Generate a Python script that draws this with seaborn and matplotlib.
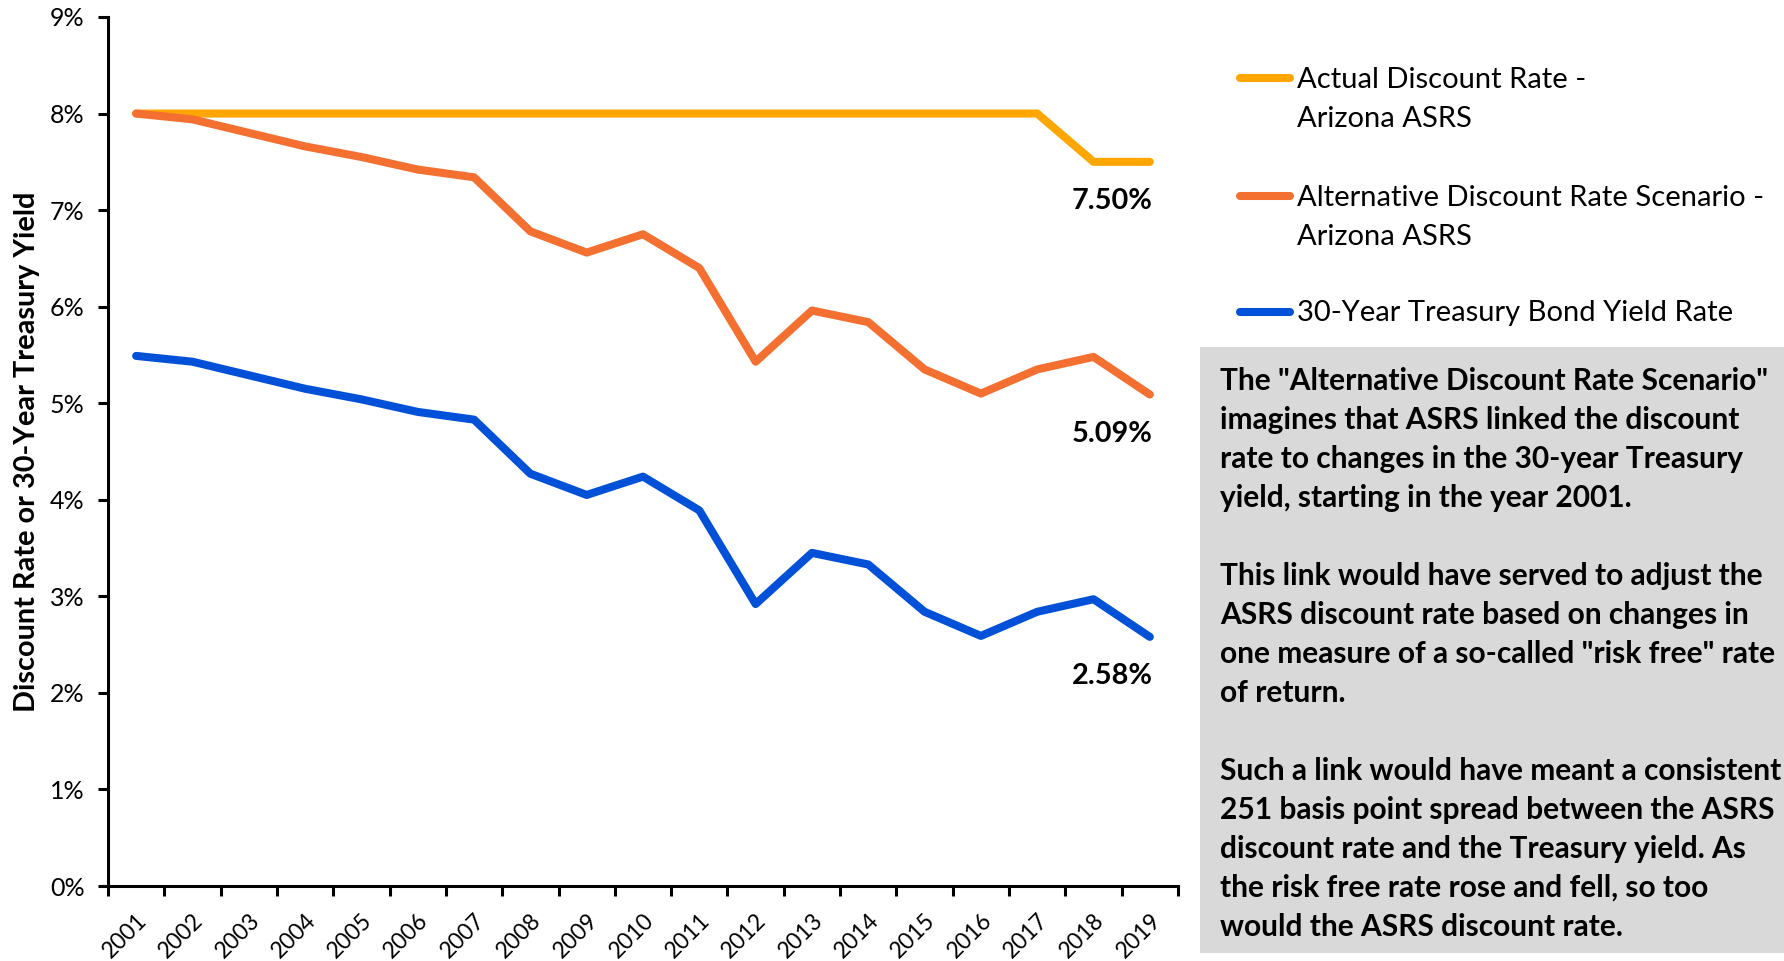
import numpy as np
import pandas as pd
import matplotlib
matplotlib.use("Agg")
import matplotlib.pyplot as plt
import seaborn as sns
from matplotlib.lines import Line2D
from matplotlib.patches import Rectangle
import matplotlib.transforms as mtransforms

# ---------------- data ----------------
years = [2001, 2002, 2003, 2004, 2005, 2006, 2007, 2008, 2009, 2010,
         2011, 2012, 2013, 2014, 2015, 2016, 2017, 2018, 2019]
actual_rate = [8.00, 8.00, 8.00, 8.00, 8.00, 8.00, 8.00, 8.00, 8.00, 8.00,
               8.00, 8.00, 8.00, 8.00, 8.00, 8.00, 8.00, 7.50, 7.50]
alternative_rate = [8.00, 7.94, 7.80, 7.66, 7.55, 7.42, 7.34, 6.78, 6.56, 6.75,
                    6.40, 5.43, 5.96, 5.84, 5.35, 5.10, 5.35, 5.48, 5.09]
treasury_yield = [5.49, 5.43, 5.29, 5.15, 5.04, 4.91, 4.83, 4.27, 4.05, 4.24,
                  3.89, 2.92, 3.45, 3.33, 2.84, 2.59, 2.84, 2.97, 2.58]
series_names = ["Actual Discount Rate -\nArizona ASRS",
                "Alternative Discount Rate Scenario -\nArizona ASRS",
                "30-Year Treasury Bond Yield Rate"]
series_colors = ["#FFA600", "#F47031", "#0050D8"]
end_labels = ["7.50%", "5.09%", "2.58%"]
y_ticks = [0, 1, 2, 3, 4, 5, 6, 7, 8, 9]
y_label = "Discount Rate or 30-Year Treasury Yield"
note_text = ('The "Alternative Discount Rate Scenario"\n'
             'imagines that ASRS linked the discount\n'
             'rate to changes in the 30-year Treasury\n'
             'yield, starting in the year 2001.\n'
             '\n'
             'This link would have served to adjust the\n'
             'ASRS discount rate based on changes in\n'
             'one measure of a so-called "risk free" rate\n'
             'of return.\n'
             '\n'
             'Such a link would have meant a consistent\n'
             '251 basis point spread between the ASRS\n'
             'discount rate and the Treasury yield. As\n'
             'the risk free rate rose and fell, so too\n'
             'would the ASRS discount rate.')

series_values = [actual_rate, alternative_rate, treasury_yield]

df = pd.DataFrame({
    "Year": years * 3,
    "Rate": actual_rate + alternative_rate + treasury_yield,
    "Series": [series_names[0]] * len(years) + [series_names[1]] * len(years)
              + [series_names[2]] * len(years),
})

# ---------------- style ----------------
sns.set_theme(style="white")
plt.rcParams['font.family'] = ['Lato', 'DejaVu Sans']

W, H = 1784, 961
fig = plt.figure(figsize=(W / 100, H / 100), dpi=100)
fig.patch.set_facecolor("white")

ax_l, ax_r, ax_t, ax_b = 108, 1178, 17, 886
ax = fig.add_axes([ax_l / W, 1 - ax_b / H, (ax_r - ax_l) / W, (ax_b - ax_t) / H])

sns.lineplot(data=df, x="Year", y="Rate", hue="Series",
             palette=dict(zip(series_names, series_colors)),
             hue_order=series_names, linewidth=5.8, legend=False,
             sort=False, ax=ax)
for ln in ax.lines:
    ln.set_solid_capstyle("round")
    ln.set_solid_joinstyle("round")

ax.set_xlim(years[0] - 0.5, years[-1] + 0.5)
ax.set_ylim(y_ticks[0], y_ticks[-1])
ax.set_yticks(y_ticks)
ax.set_yticklabels([f"{v}%" for v in y_ticks], fontsize=18, color="black")
ax.set_xticks(years)
ax.set_xticklabels([str(y) for y in years], rotation=45, ha="right",
                   va="top", rotation_mode="anchor", fontsize=16.5,
                   color="black")
shift = mtransforms.ScaledTranslation(26 / 100, 0, fig.dpi_scale_trans)
for lbl in ax.get_xticklabels():
    lbl.set_transform(lbl.get_transform() + shift)
ax.set_xticks(np.arange(years[0] - 0.5, years[-1] + 1.0, 1.0), minor=True)
ax.tick_params(axis="x", which="major", length=0, pad=17)
ax.tick_params(axis="x", which="minor", length=7, width=2.2, color="black",
               direction="out", bottom=True)
ax.tick_params(axis="y", which="major", length=7, width=2.2, color="black",
               direction="out", left=True, pad=10)
for s in ["top", "right"]:
    ax.spines[s].set_visible(False)
for s in ["left", "bottom"]:
    ax.spines[s].set_color("black")
    ax.spines[s].set_linewidth(2.2)
ax.set_xlabel("")
ax.set_ylabel(y_label, fontsize=20.8, fontweight="bold", color="black")
ax.yaxis.set_label_coords((40 - ax_l) / (ax_r - ax_l), 0.5)
ax.grid(False)

# end-of-series value labels
for vals, lab in zip(series_values, end_labels):
    ax.annotate(lab, xy=(years[-1], vals[-1]), xytext=(2, -28.5),
                textcoords="offset points", ha="right", va="center",
                fontsize=20.8, fontweight="bold", color="black")

# legend (drawn manually so that the handle aligns with the first text line)
leg_y = [78, 196, 312]
for name, col, yc in zip(series_names, series_colors, leg_y):
    fig.add_artist(Line2D([1240 / W, 1290 / W], [1 - yc / H, 1 - yc / H],
                          transform=fig.transFigure, color=col, lw=5.8,
                          solid_capstyle="round"))
    fig.text(1297 / W, 1 - (yc - 11.5) / H, name, ha="left", va="top",
             fontsize=21, color="black", linespacing=1.63)

# grey annotation box
fig.add_artist(Rectangle((1200 / W, 1 - 953 / H), 1 - 1200 / W, (953 - 347) / H,
                         transform=fig.transFigure, facecolor="#D9D9D9",
                         edgecolor="none", zorder=0))
fig.text(1220 / W, 1 - 367 / H, note_text, ha="left", va="top", fontsize=21.5,
         fontweight="bold", color="black", linespacing=1.478)

fig.savefig("out.png", dpi=100)
